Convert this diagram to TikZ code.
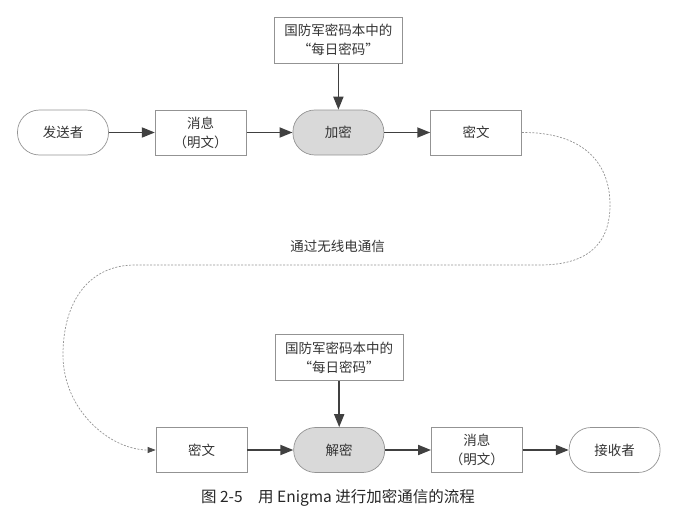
\documentclass[tikz,border=0pt]{standalone}
\usepackage{fontspec}
\newfontfamily\cjk{Noto Sans CJK SC}
\usetikzlibrary{arrows.meta,positioning}

\begin{document}
\begin{tikzpicture}[
    x=1pt, y=1pt, node distance=46pt,
    font=\cjk\fontsize{13.5}{19}\selectfont,
    box/.style={rectangle, draw=gray!85, line width=0.7pt, text=black!80,
                minimum width=91pt, minimum height=45pt, align=center},
    term/.style={box, rounded corners=22pt},
    proc/.style={term, fill=gray!30},
    key/.style={box, minimum width=128pt, minimum height=46pt},
    arr/.style={-{Triangle[length=13pt,width=10pt]}, line width=1.8pt, draw=black!75},
    link/.style={-{Triangle[length=8pt,width=6pt,black!70]}, draw=gray!85, line width=0.7pt,
                 dash pattern=on 2pt off 1.5pt},
    lbl/.style={text=black!80}
  ]
    \useasboundingbox (0,0) rectangle (691,-522);

    %--- Sending side ---
    \node[term]               (snd)  at (63,-132.5) {发送者};
    \node[box, right=of snd]  (msg1) {消息\\（明文）};
    \node[proc, right=of msg1] (enc) {加密};
    \node[box, right=of enc]  (cph1) {密文};
    \node[key, above=of enc]  (key1) {国防军密码本中的\\“每日密码”};

    %--- Receiving side ---
    \node[box]                (cph2) at (201.5,-450) {密文};
    \node[proc, right=of cph2] (dec) {解密};
    \node[box, right=of dec]  (msg2) {消息\\（明文）};
    \node[term, right=of msg2] (rcv) {接收者};
    \node[key, above=of dec]  (key2) {国防军密码本中的\\“每日密码”};

    \draw[arr] (snd)  -- (msg1);
    \draw[arr] (msg1) -- (enc);
    \draw[arr] (enc)  -- (cph1);
    \draw[arr] (key1) -- (enc);
    \draw[arr] (cph2) -- (dec);
    \draw[arr] (dec)  -- (msg2);
    \draw[arr] (msg2) -- (rcv);
    \draw[arr] (key2) -- (dec);

    %--- Radio link ---
    \draw[link] (cph1.east) .. controls (580,-132) and (610,-160) .. (610,-205)
                .. controls (610,-250) and (580,-265) .. (540,-265)
                -- node[lbl, above=9pt] (radio) {通过无线电通信} (135,-265)
                .. controls (90,-265) and (63,-300) .. (63,-355)
                .. controls (63,-410) and (110,-450) .. (cph2.west);

    \node[font=\cjk\fontsize{15.5}{18}\selectfont, text=black!85] (cap) at (338,-498)
          {图 2-5\quad 用 Enigma 进行加密通信的流程};
  \end{tikzpicture}
\end{document}
